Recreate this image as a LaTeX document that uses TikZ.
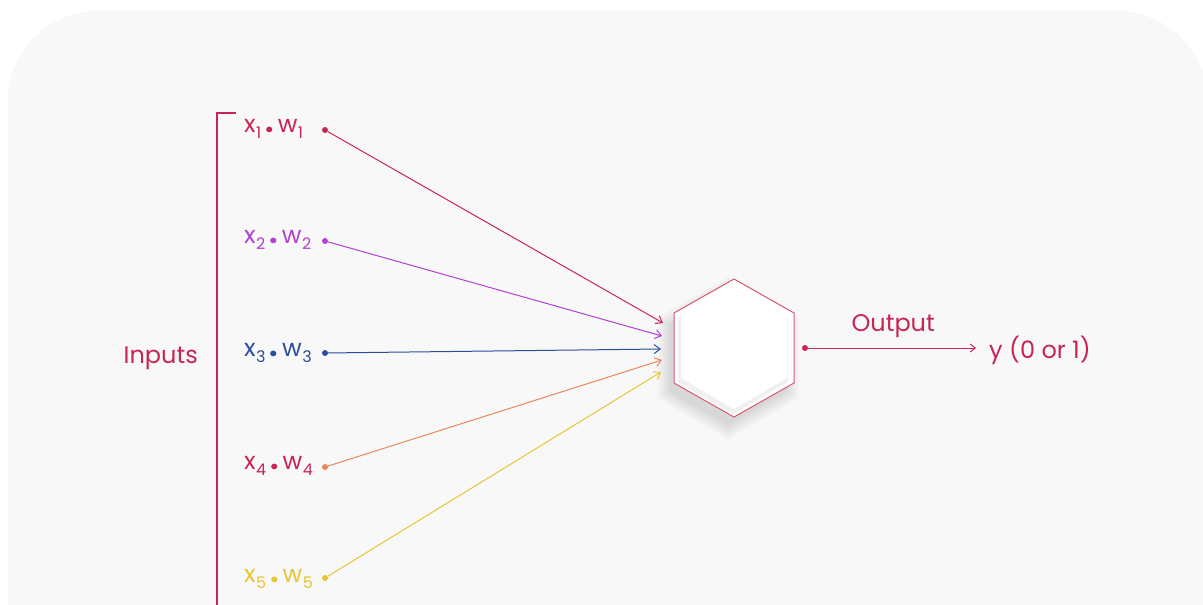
\documentclass[tikz,border=0pt]{standalone}
\usepackage{fontspec}
\setmainfont{Poppins}
\usetikzlibrary{arrows.meta}
\definecolor{bgc}{HTML}{F8F8F8}
\definecolor{crim}{HTML}{C92554}
\definecolor{purp}{HTML}{B43FD2}
\definecolor{navy}{HTML}{2C4C9C}
\definecolor{oran}{HTML}{E8875E}
\definecolor{yell}{HTML}{E6C634}
\definecolor{hexedge}{HTML}{D9576F}
\newcommand{\sbs}[1]{\hspace{0.5pt}\raisebox{-0.45ex}{\fontsize{16}{16}\selectfont #1}}
\newcommand{\xw}[1]{x\sbs{#1}\hspace{4pt}{\fontsize{30}{30}\selectfont\textbf{.}}\hspace{4pt}w\sbs{#1}}
\tikzset{
  lbl/.style={font=\fontsize{24}{24}\selectfont, anchor=west, inner sep=0pt},
  dotn/.style={circle, fill=#1, inner sep=0pt, minimum size=6pt},
  wire/.style={draw=#1, line width=1pt, -{Straight Barb[length=6pt,width=9pt]}},
}
\begin{document}
\begin{tikzpicture}[x=1pt,y=-1pt]
\useasboundingbox (0,0) rectangle (1203,605);
\clip (0,0) rectangle (1203,605);
\fill[white] (0,0) rectangle (1203,605);
\fill[bgc, rounded corners=90pt] (8,11) rectangle (1207,720);

% bracket
\draw[crim, line width=1.3pt] (236,113) -- (217,113) -- (217,610);
\node[lbl, text=crim, anchor=east] (inputs) at (198,358) {Inputs};

% input labels
\node[lbl, text=crim] (l1) at (244,129) {\xw{1}};
\node[lbl, text=purp] (l2) at (244,240) {\xw{2}};
\node[lbl, text=navy] (l3) at (244,353) {\xw{3}};
\node[lbl, text=crim] (l4) at (244,466) {\xw{4}};
\node[lbl, text=yell] (l5) at (244,579) {\xw{5}};

% dots
\node[dotn=crim] (d1) at (325,130) {};
\node[dotn=purp] (d2) at (325,241) {};
\node[dotn=navy] (d3) at (325,353) {};
\node[dotn=oran] (d4) at (325,467) {};
\node[dotn=yell] (d5) at (325,578) {};

% arrow end coordinates
\coordinate (e1) at (663,323);
\coordinate (e2) at (662,336);
\coordinate (e3) at (661,349);
\coordinate (e4) at (662,360);
\coordinate (e5) at (661,372);

% hexagon soft shadow
\foreach \s in {1.18,1.15,1.12,1.09,1.06,1.03,1.0,0.97}{
  \fill[black, opacity=0.014, shift={(728,358)}, scale=\s]
    (0,-69) -- (60,-34.5) -- (60,34.5) -- (0,69) -- (-60,34.5) -- (-60,-34.5) -- cycle;
}
% hexagon
\coordinate (hc) at (734,348);
\draw[hexedge, fill=white, line width=1pt, shift={(734,348)}]
  (0,-69) -- (60,-35) -- (60,35) -- (0,69) -- (-60,35) -- (-60,-35) -- cycle;
\fill[black!6, shift={(733,350)}]
  (0,-64) -- (55,-32) -- (55,32) -- (0,64) -- (-55,32) -- (-55,-32) -- cycle;
\fill[white, shift={(734,347)}]
  (0,-62) -- (53,-31) -- (53,31) -- (0,62) -- (-53,31) -- (-53,-31) -- cycle;

% wires
\draw[wire=crim] (d1) -- (e1);
\draw[wire=purp] (d2) -- (e2);
\draw[wire=navy] (d3) -- (e3);
\draw[wire=oran] (d4) -- (e4);
\draw[wire=yell] (d5) -- (e5);

% output
\node[dotn=crim] (od) at (805,348) {};
\node[lbl, text=crim] (y) at (989,350) {y (0 or 1)};
\draw[crim, line width=1pt, shorten >=13pt, -{Straight Barb[length=5pt,width=8pt]}] (od) -- (od -| y.west) node[pos=0.47, above=10pt, lbl, anchor=south, text=crim] (outl) {Output};
\end{tikzpicture}
\end{document}
